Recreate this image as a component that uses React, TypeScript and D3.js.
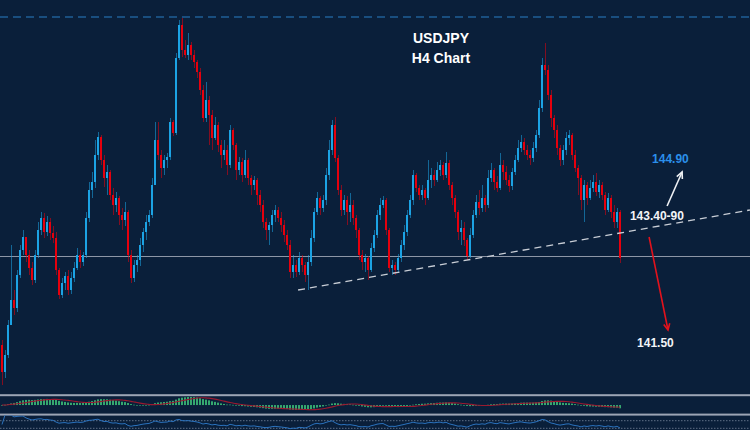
import React from 'react';
import * as d3 from 'd3';

const W = 750;
const H = 430;

// USDJPY H4 candles (open of each candle = previous close)
const firstOpen = 141.2;
const closes = [
  140.66,141.00,141.60,142.10,141.94,142.60,143.10,143.36,143.00,142.74,
  142.50,143.00,143.50,143.74,143.46,143.66,143.44,143.34,142.70,142.20,
  142.44,142.58,142.30,142.54,142.74,143.00,142.86,143.00,143.74,144.30,
  144.46,145.00,145.36,144.90,144.54,144.66,144.20,144.00,144.14,143.80,
  143.70,143.86,143.00,142.54,142.80,142.90,143.20,143.46,143.66,143.80,
  144.40,145.30,145.00,144.74,144.90,144.96,145.66,145.44,146.94,147.60,
  147.10,147.00,147.20,147.00,146.86,146.66,146.30,145.74,146.10,145.80,
  145.34,145.60,145.20,145.00,145.10,144.80,145.50,145.20,144.70,144.86,
  144.60,144.90,144.54,144.40,144.50,144.20,144.00,143.66,143.50,143.60,
  143.80,143.90,143.74,143.60,143.40,143.20,142.66,142.80,142.66,142.94,
  142.80,142.60,142.86,143.34,143.86,144.14,143.94,144.10,144.60,145.10,
  145.60,144.94,144.30,143.90,144.10,143.86,144.00,143.74,143.50,143.00,
  142.86,142.94,142.70,143.14,143.40,143.80,144.00,144.10,143.50,142.74,
  142.80,142.70,142.94,143.20,143.46,143.80,144.10,144.60,144.34,144.20,
  144.30,144.14,144.50,144.60,144.50,144.70,144.80,144.60,144.84,144.40,
  144.14,143.86,143.46,143.54,143.30,142.98,143.40,143.80,144.06,143.94,
  144.14,144.00,144.54,144.70,144.46,144.34,144.80,144.66,144.50,144.38,
  144.66,144.90,145.14,145.26,145.10,145.00,144.94,145.14,145.40,145.94,
  146.80,146.70,146.20,145.74,145.50,145.14,144.90,145.10,145.34,145.40,
  145.00,144.74,144.54,144.10,144.40,144.14,144.34,144.46,144.26,144.40,
  144.20,143.90,144.14,143.86,143.66,143.86,142.94,
];
const highs = [
  141.30,141.10,141.70,143.20,142.30,142.70,143.20,143.50,143.30,143.10,
  142.86,143.10,143.66,143.86,143.84,143.78,143.74,143.58,143.46,142.74,
  142.54,142.66,142.70,142.66,142.86,143.14,143.10,143.06,143.86,144.46,
  144.66,145.30,145.46,145.40,145.00,144.80,144.70,144.34,144.26,144.18,
  143.94,144.06,143.90,143.10,142.90,143.00,143.34,143.54,143.80,143.90,
  144.54,145.66,145.66,145.10,145.00,145.04,145.74,145.70,147.04,147.70,
  147.74,147.30,147.44,147.26,147.10,146.90,146.74,146.40,146.46,146.18,
  145.90,145.76,145.66,145.30,145.30,145.20,145.60,145.54,145.24,144.96,
  144.94,145.10,144.94,144.60,144.58,144.54,144.30,144.10,143.74,143.66,
  143.90,144.00,143.96,143.86,143.70,143.50,143.30,143.00,142.90,143.06,
  143.00,142.86,143.00,143.50,143.94,144.26,144.18,144.20,144.74,145.30,
  145.70,145.76,145.00,144.40,144.20,144.18,144.24,144.10,143.80,143.54,
  143.10,143.02,142.98,143.24,143.50,143.90,144.14,144.18,144.14,143.54,
  142.90,142.86,143.02,143.30,143.60,143.90,144.20,144.70,144.64,144.40,
  144.40,144.34,144.90,144.74,144.70,144.86,144.90,144.86,145.06,144.90,
  144.46,144.20,143.90,143.70,143.66,143.34,143.54,143.90,144.20,144.30,
  144.40,144.20,144.70,144.84,144.74,144.58,145.04,144.90,144.78,144.60,
  144.74,145.00,145.30,145.40,145.34,145.20,145.10,145.26,145.50,146.10,
  146.94,147.24,146.80,146.30,145.80,145.60,145.20,145.20,145.46,145.50,
  145.44,145.10,144.80,144.60,144.50,144.46,144.50,144.60,144.64,144.50,
  144.46,144.26,144.24,144.20,144.00,143.94,143.90,
];
const lows = [
  140.40,140.54,140.94,141.70,141.80,141.86,142.54,143.00,142.86,142.60,
  142.40,142.44,142.94,143.40,143.34,143.38,143.30,143.24,142.60,142.12,
  142.14,142.30,142.20,142.22,142.46,142.70,142.74,142.78,142.94,143.66,
  144.14,144.34,144.90,144.80,144.36,144.20,144.10,143.80,143.86,143.60,
  143.50,143.58,142.86,142.44,142.46,142.66,142.78,143.06,143.30,143.58,
  143.74,144.40,144.90,144.54,144.60,144.74,144.90,145.38,145.40,146.90,
  146.96,146.94,146.90,146.90,146.74,146.54,146.20,145.66,145.66,145.20,
  145.10,145.30,145.06,144.74,144.90,144.60,144.74,145.10,144.50,144.60,
  144.46,144.54,144.40,144.20,144.30,144.00,143.86,143.54,143.30,143.20,
  143.46,143.66,143.66,143.46,143.26,143.10,142.54,142.54,142.56,142.60,
  142.66,142.46,142.30,142.78,143.26,143.80,143.80,143.86,144.00,144.50,
  145.00,144.86,144.20,143.78,143.80,143.60,143.66,143.60,143.34,142.90,
  142.70,142.66,142.50,142.66,143.06,143.34,143.70,143.94,143.40,142.66,
  142.60,142.60,142.66,142.86,143.10,143.38,143.74,144.00,144.26,144.10,
  144.10,144.00,144.10,144.34,144.38,144.46,144.58,144.50,144.54,144.30,
  144.00,143.74,143.30,143.20,143.18,142.90,142.94,143.34,143.74,143.80,
  143.86,143.86,143.94,144.46,144.30,144.26,144.30,144.50,144.40,144.26,
  144.30,144.60,144.86,145.06,145.00,144.90,144.80,144.86,145.06,145.34,
  145.86,146.60,146.10,145.56,145.34,145.00,144.78,144.80,145.00,145.20,
  144.90,144.66,144.20,143.90,143.66,144.00,144.10,144.26,144.18,144.14,
  144.10,143.80,143.86,143.74,143.54,143.54,142.84,
];

const resistanceLevel = 147.76;
const supportLevel = 142.97;
const trendStart = { i: 98.7, p: 142.3 };
const trendEnd = { i: 249.3, p: 143.9 };
const titleLines = ['USDJPY', 'H4 Chart'];
const labels = [
  { text: '144.90', i: 216.7, p: 144.84, color: '#2b8fea' },
  { text: '143.40-90', i: 209.3, p: 143.7, color: '#f2f4f7' },
  { text: '141.50', i: 211.7, p: 141.16, color: '#f2f4f7' },
];
const arrows = [
  { from: { i: 221.7, p: 143.98 }, to: { i: 226.7, p: 144.66 }, color: '#eef0f3' },
  { from: { i: 215.7, p: 143.36 }, to: { i: 222.0, p: 141.5 }, color: '#e3121c' },
];
const rsiLevels = [70, 30];

const BG = '#0a1f3a';
const UP = '#1ca3e4';
const DOWN = '#e6000d';
const FONT = "'Liberation Sans', Arial, sans-serif";

function ema(arr: number[], n: number) {
  const k = 2 / (n + 1);
  let e = arr[0];
  return arr.map((v, i) => (e = i === 0 ? v : v * k + e * (1 - k)));
}

export default function App() {
  const n = closes.length;
  const x = d3.scaleLinear().domain([0, n - 1]).range([2, 620]);
  const y = d3.scaleLinear().domain([140.1, 148.1]).range([400, 0]);
  const opens = closes.map((c, i) => (i === 0 ? firstOpen : closes[i - 1]));

  // MACD (12,26) main as histogram + SMA(9) signal
  const e12 = ema(closes, 12);
  const e26 = ema(closes, 26);
  const macd = e12.map((v, i) => v - e26[i]);
  const signal = macd.map((_, i) => d3.mean(macd.slice(Math.max(0, i - 8), i + 1)) as number);
  const mMin = Math.min(d3.min(macd) as number, d3.min(signal) as number);
  const mMax = Math.max(d3.max(macd) as number, d3.max(signal) as number);
  const ym = d3.scaleLinear().domain([mMin, mMax]).range([410, 397]);
  const sigLine = d3.line<number>().x((_, i) => x(i)).y((v) => ym(v)).curve(d3.curveMonotoneX)(signal) || '';

  // RSI(14)
  const rsi: number[] = [];
  let ag = 0, al = 0;
  closes.forEach((c, i) => {
    if (i === 0) { rsi.push(50); return; }
    const ch = c - closes[i - 1];
    const g = Math.max(ch, 0), l = Math.max(-ch, 0);
    const p = Math.min(i, 14);
    ag = (ag * (p - 1) + g) / p;
    al = (al * (p - 1) + l) / p;
    rsi.push(al === 0 ? 100 : 100 - 100 / (1 + ag / al));
  });
  const yr = d3.scaleLinear().domain([30, 70]).range([428.3, 420.7]);
  const rsiLine = d3.line<number>().x((_, i) => x(i)).y((v) => yr(v))(rsi) || '';

  const arrowHead = (fx: number, fy: number, tx: number, ty: number) => {
    const a = Math.atan2(ty - fy, tx - fx);
    const L = 7, s = 0.45;
    const p1 = [tx - L * Math.cos(a - s), ty - L * Math.sin(a - s)];
    const p2 = [tx - L * Math.cos(a + s), ty - L * Math.sin(a + s)];
    return `M${p1[0]},${p1[1]}L${tx},${ty}L${p2[0]},${p2[1]}`;
  };

  return (
    <svg width={W} height={H} style={{ position: 'fixed', left: 0, top: 0, display: 'block' }}>
      <defs>
        <clipPath id="mainClip"><rect x={0} y={0} width={W} height={393} /></clipPath>
        <clipPath id="macdClip"><rect x={0} y={396} width={W} height={17.5} /></clipPath>
        <clipPath id="rsiClip"><rect x={0} y={415.5} width={W} height={15} /></clipPath>
      </defs>
      <rect x={0} y={0} width={W} height={H} fill={BG} />

      <g clipPath="url(#mainClip)">
        <line x1={0} x2={W} y1={y(resistanceLevel)} y2={y(resistanceLevel)} stroke="#1f5f96" strokeWidth={1.5} strokeDasharray="8,5" />
        <line x1={0} x2={W} y1={Math.round(y(supportLevel)) + 0.5} y2={Math.round(y(supportLevel)) + 0.5} stroke="#8d96a6" strokeWidth={1} />
        {closes.map((c, i) => {
          const o = opens[i];
          const up = c >= o;
          const col = up ? UP : DOWN;
          const hi = Math.max(highs[i], o, c);
          const lo = Math.min(lows[i], o, c);
          const top = y(Math.max(o, c));
          const bot = y(Math.min(o, c));
          const cx = x(i);
          return (
            <g key={i}>
              <rect x={cx} y={y(hi)} width={1} height={y(lo) - y(hi)} fill={col} opacity={0.55} />
              <rect x={cx - 1} y={top} width={2} height={Math.max(1, bot - top)} fill={col} />
            </g>
          );
        })}
        <line x1={x(trendStart.i)} y1={y(trendStart.p)} x2={x(trendEnd.i)} y2={y(trendEnd.p)} stroke="#c9ced6" strokeWidth={1.3} strokeDasharray="7,5" />
        {arrows.map((a, k) => {
          const fx = x(a.from.i), fy = y(a.from.p), tx = x(a.to.i), ty = y(a.to.p);
          return (
            <g key={k} stroke={a.color} strokeWidth={1.6} fill="none">
              <line x1={fx} y1={fy} x2={tx} y2={ty} />
              <path d={arrowHead(fx, fy, tx, ty)} />
            </g>
          );
        })}
        {labels.map((l, k) => (
          <text key={k} x={x(l.i)} y={y(l.p)} fill={l.color} fontFamily={FONT} fontWeight="bold" fontSize={12}>{l.text}</text>
        ))}
        {titleLines.map((t, k) => (
          <text key={k} x={441} y={43 + k * 20} textAnchor="middle" fill="#ffffff" fontFamily={FONT} fontWeight="bold" fontSize={14}>{t}</text>
        ))}
      </g>

      <rect x={0} y={394.2} width={W} height={2} fill="#9ca5b5" />
      <g clipPath="url(#macdClip)">
        {macd.map((m, i) => (
          <rect key={i} x={x(i) - 1} y={Math.min(ym(0), ym(m))} width={2} height={Math.max(0.6, Math.abs(ym(m) - ym(0)))} fill="#35a86f" />
        ))}
        <path d={sigLine} fill="none" stroke="#9a1a30" strokeWidth={1.1} />
      </g>
      <rect x={0} y={413.6} width={W} height={2} fill="#9ca5b5" />
      <g clipPath="url(#rsiClip)">
        {rsiLevels.map((lv) => (
          <line key={lv} x1={0} x2={W} y1={yr(lv)} y2={yr(lv)} stroke="#5f6f86" strokeWidth={1} strokeDasharray="1.5,1.5" />
        ))}
        <path d={rsiLine} fill="none" stroke="#2b72bd" strokeWidth={1} />
      </g>
    </svg>
  );
}
